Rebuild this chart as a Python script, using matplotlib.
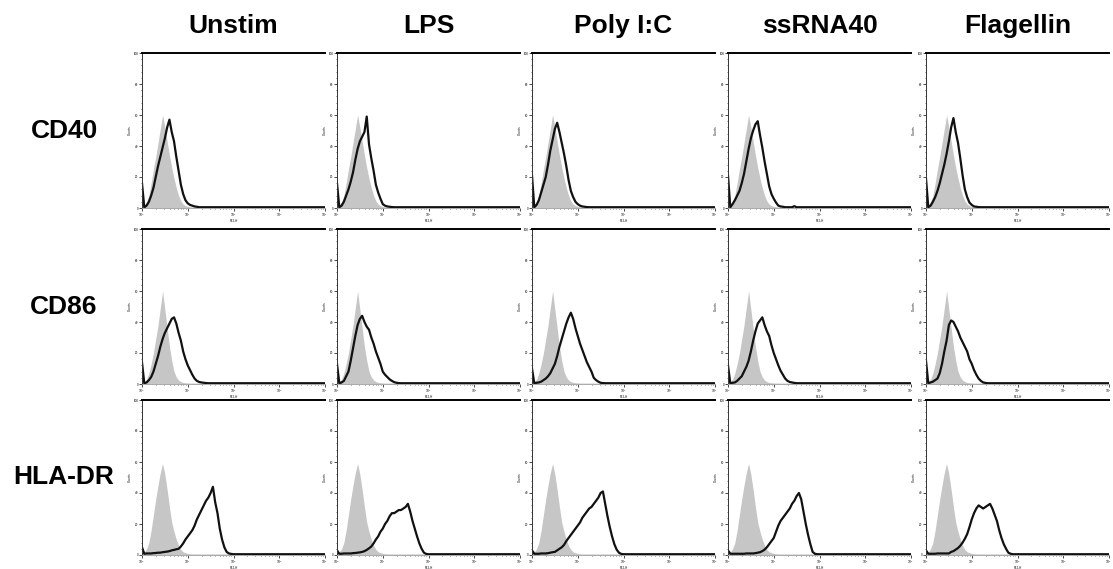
import numpy as np
import matplotlib.pyplot as plt
from matplotlib.ticker import FixedLocator, LogLocator, MultipleLocator, NullFormatter

plt.rcParams['font.family'] = ['Liberation Sans', 'DejaVu Sans']

stimuli = ['Unstim', 'LPS', 'Poly I:C', 'ssRNA40', 'Flagellin']
markers = ['CD40', 'CD86', 'HLA-DR']

# FL2-H channel positions in decades (10^0 .. 10^4)
log_fl2 = [0.00, 0.05, 0.10, 0.15, 0.20, 0.25, 0.30, 0.35, 0.40, 0.45,
           0.50, 0.55, 0.60, 0.65, 0.70, 0.75, 0.80, 0.85, 0.90, 0.95,
           1.00, 1.05, 1.10, 1.15, 1.20, 1.25, 1.30, 1.35, 1.40, 1.45,
           1.50, 1.55, 1.60, 1.65, 1.70, 1.75, 1.80, 1.85, 1.90, 1.95,
           2.00, 2.50, 3.00, 3.50, 4.00]

# isotype controls (grey fill), counts per channel
iso_cd40 = [1, 2, 4, 8, 16, 25, 33, 42, 51, 60,
            52, 43, 34, 26, 19, 13, 8, 4.5, 2.5, 1.5,
            1, 0.8, 0.6, 0.6, 0.6, 0.6, 0.6, 0.6, 0.6, 0.6,
            0.6, 0.6, 0.6, 0.6, 0.6, 0.6, 0.6, 0.6, 0.6, 0.6,
            0.6, 0.6, 0.6, 0.6, 0.6]
iso_cd86 = [1, 1.5, 3, 7, 13, 20, 29, 38, 49, 60,
            48, 36, 24, 15, 8, 4.5, 2.5, 1.5, 1, 0.8,
            0.7, 0.6, 0.6, 0.6, 0.6, 0.6, 0.6, 0.6, 0.6, 0.6,
            0.6, 0.6, 0.6, 0.6, 0.6, 0.6, 0.6, 0.6, 0.6, 0.6,
            0.6, 0.6, 0.6, 0.6, 0.6]
iso_hla = [1, 2, 4, 8, 16, 26, 36, 45, 53, 59,
           52, 42, 31, 21, 15, 10, 6, 3.5, 2, 1.5,
           1, 0.8, 0.7, 0.7, 0.7, 0.7, 0.7, 0.7, 0.7, 0.7,
           0.7, 0.7, 0.7, 0.7, 0.7, 0.7, 0.7, 0.7, 0.7, 0.7,
           0.7, 0.7, 0.7, 0.7, 0.7]

# stained samples (black line)
cd40_unstim = [16, 0.5, 1.5, 4, 8, 13, 20, 27, 33, 39,
               45, 52, 57, 49, 43, 33, 24, 15, 9, 5,
               3, 2, 1.5, 1, 0.8, 0.5, 0.5, 0.5, 0.5, 0.5,
               0.5, 0.5, 0.5, 0.5, 0.5, 0.5, 0.5, 0.5, 0.5, 0.5,
               0.5, 0.5, 0.5, 0.5, 0.5]
cd40_lps = [16, 0.5, 1.5, 4, 8, 12, 17, 23, 31, 38,
            43, 46, 49, 59, 41, 32, 24, 15, 10, 6,
            2.5, 1.5, 1, 0.8, 0.6, 0.5, 0.5, 0.5, 0.5, 0.5,
            0.5, 0.5, 0.5, 0.5, 0.5, 0.5, 0.5, 0.5, 0.5, 0.5,
            0.5, 0.5, 0.5, 0.5, 0.5]
cd40_polyic = [21, 0.5, 2, 5, 10, 15, 20, 28, 37, 44,
               51, 55, 49, 42, 35, 27, 18, 11, 7, 4,
               2.5, 1.5, 1, 0.8, 0.6, 0.5, 0.5, 0.5, 0.5, 0.5,
               0.5, 0.5, 0.5, 0.5, 0.5, 0.5, 0.5, 0.5, 0.5, 0.5,
               0.5, 0.5, 0.5, 0.5, 0.5]
cd40_ssrna = [21, 0.5, 2.5, 5, 8, 11, 16, 22, 30, 38,
              45, 50, 54, 56, 47, 39, 30, 22, 14, 9,
              6, 3.5, 1.5, 1, 0.8, 0.5, 0.5, 0.5, 0.5, 1.2,
              0.5, 0.5, 0.5, 0.5, 0.5, 0.5, 0.5, 0.5, 0.5, 0.5,
              0.5, 0.5, 0.5, 0.5, 0.5]
cd40_flag = [19, 0.5, 1.5, 4, 7, 11, 16, 22, 28, 35,
             43, 52, 58, 49, 42, 32, 21, 12, 7, 3.5,
             2, 1, 0.8, 0.6, 0.5, 0.5, 0.5, 0.5, 0.5, 0.5,
             0.5, 0.5, 0.5, 0.5, 0.5, 0.5, 0.5, 0.5, 0.5, 0.5,
             0.5, 0.5, 0.5, 0.5, 0.5]

cd86_unstim = [14, 0.5, 1, 2.5, 4.5, 8, 13, 18, 24, 29,
               33, 36, 39, 42, 43, 39, 33, 28, 21, 16,
               12, 9, 6, 3.5, 2, 1.3, 1, 0.8, 0.6, 0.5,
               0.5, 0.5, 0.5, 0.5, 0.5, 0.5, 0.5, 0.5, 0.5, 0.5,
               0.5, 0.5, 0.5, 0.5, 0.5]
cd86_lps = [13, 0.5, 1, 2, 5, 8, 15, 23, 31, 38,
            42, 44, 40, 37, 35, 30, 26, 21, 17, 13,
            8, 6, 4.5, 3, 2, 1.2, 0.8, 0.6, 0.5, 0.5,
            0.5, 0.5, 0.5, 0.5, 0.5, 0.5, 0.5, 0.5, 0.5, 0.5,
            0.5, 0.5, 0.5, 0.5, 0.5]
cd86_polyic = [10, 0.5, 0.8, 1, 1.5, 2.5, 3.5, 5, 7, 10,
               13, 18, 24, 29, 34, 39, 43, 46, 42, 36,
               31, 26, 22, 18, 14, 11, 8, 4, 2.5, 1.5,
               0.8, 0.6, 0.5, 0.5, 0.5, 0.5, 0.5, 0.5, 0.5, 0.5,
               0.5, 0.5, 0.5, 0.5, 0.5]
cd86_ssrna = [12, 0.5, 0.8, 1, 2, 3.5, 5, 8, 11, 15,
              21, 28, 34, 39, 41, 43, 38, 34, 31, 25,
              20, 16, 12, 8.5, 6, 3.5, 2, 1.3, 1, 0.7,
              0.5, 0.5, 0.5, 0.5, 0.5, 0.5, 0.5, 0.5, 0.5, 0.5,
              0.5, 0.5, 0.5, 0.5, 0.5]
cd86_flag = [15, 0.5, 1, 1.5, 2.5, 3.5, 7, 13, 21, 28,
             38, 41, 40, 37, 34, 30, 27, 24, 21, 16,
             13, 9, 6, 3.5, 2, 1, 0.7, 0.5, 0.5, 0.5,
             0.5, 0.5, 0.5, 0.5, 0.5, 0.5, 0.5, 0.5, 0.5, 0.5,
             0.5, 0.5, 0.5, 0.5, 0.5]

hla_unstim = [5, 0.8, 1, 1, 1, 1.2, 1.3, 1.5, 1.5, 1.8,
              2, 2.2, 2.5, 3, 3.3, 3.7, 4, 5.5, 7.5, 10,
              12, 14, 16, 19, 23, 26, 29, 32, 35, 37,
              40, 44, 34, 27, 17, 10, 5, 2, 1, 0.7,
              0.5, 0.5, 0.5, 0.5, 0.5]
hla_lps = [3, 0.8, 0.8, 1, 1, 1, 1, 1.2, 1.3, 1.5,
           1.7, 2, 2.5, 3.3, 4.3, 5.5, 7.5, 10, 12, 15,
           17, 20, 22, 25, 27, 27, 28, 29, 29, 30,
           31, 33, 28, 22, 17, 12, 7.5, 4, 1.5, 0.7,
           0.5, 0.5, 0.5, 0.5, 0.5]
hla_polyic = [3, 0.8, 0.8, 0.8, 1, 1, 1, 1.2, 1.5, 1.8,
              2, 3, 4, 5, 6.5, 9, 11, 13, 15, 17,
              19, 21, 24, 26, 28, 30, 31, 33, 35, 37,
              40, 41, 33, 25, 18, 12, 7, 3.5, 1.5, 0.7,
              0.5, 0.5, 0.5, 0.5, 0.5]
hla_ssrna = [3, 0.8, 0.8, 0.8, 0.8, 0.8, 0.8, 0.8, 1, 1,
             1, 1, 1.2, 1.5, 1.8, 2.5, 3.5, 5, 7, 9,
             11, 15, 19, 22, 24, 26, 28, 30, 33, 35,
             38, 40, 36, 28, 20, 13, 7, 2, 0.8, 0.5,
             0.5, 0.5, 0.5, 0.5, 0.5]
hla_flag = [3, 0.8, 0.8, 0.8, 0.8, 1, 1, 1, 1, 1,
            1, 2, 2.5, 3.5, 4.5, 6, 8, 10.5, 13.5, 18,
            23, 27, 30, 32, 31, 30, 31, 32, 33, 30,
            26, 22, 16, 11, 7, 4, 1.5, 0.8, 0.5, 0.5,
            0.5, 0.5, 0.5, 0.5, 0.5]

isotypes = [iso_cd40, iso_cd86, iso_hla]
stained = [
    [cd40_unstim, cd40_lps, cd40_polyic, cd40_ssrna, cd40_flag],
    [cd86_unstim, cd86_lps, cd86_polyic, cd86_ssrna, cd86_flag],
    [hla_unstim, hla_lps, hla_polyic, hla_ssrna, hla_flag],
]

W, H = 1113, 569
fig = plt.figure(figsize=(W / 100, H / 100), dpi=100)

col_left = [142, 337, 532, 728, 926]
row_top = [53, 229, 400]
pw, ph = 183, 155

fl2 = 10 ** np.array(log_fl2)

for r, marker in enumerate(markers):
    for c, stim in enumerate(stimuli):
        ax = fig.add_axes([col_left[c] / W, 1 - (row_top[r] + ph) / H, pw / W, ph / H])
        ax.fill_between(fl2, isotypes[r], color='#c6c6c6', lw=0)
        ax.plot(fl2, stained[r][c], color='#111111', lw=1.6, solid_joinstyle='round')

        ax.set_xscale('log')
        ax.set_xlim(1, 1e4)
        ax.set_ylim(0, 100)

        ax.spines['right'].set_visible(False)
        ax.spines['top'].set_linewidth(1.4)
        ax.spines['top'].set_color('black')
        ax.spines['left'].set_linewidth(0.7)
        ax.spines['left'].set_color('#333333')
        ax.spines['bottom'].set_linewidth(0.7)
        ax.spines['bottom'].set_color('#aaaaaa')

        ax.xaxis.set_major_locator(FixedLocator([1, 10, 100, 1000, 10000]))
        ax.xaxis.set_minor_locator(LogLocator(base=10, subs=np.arange(2, 10)))
        ax.xaxis.set_minor_formatter(NullFormatter())
        ax.set_xticklabels(['$10^0$', '$10^1$', '$10^2$', '$10^3$', '$10^4$'])
        ax.yaxis.set_major_locator(MultipleLocator(20))
        ax.yaxis.set_minor_locator(MultipleLocator(4))

        ax.tick_params(which='major', length=2, width=0.5, labelsize=2.2, pad=0.5)
        ax.tick_params(which='minor', length=1, width=0.4)
        ax.set_xlabel('FL2-H', fontsize=2.2, labelpad=0)
        ax.set_ylabel('Counts', fontsize=2.2, labelpad=1)

for c, stim in enumerate(stimuli):
    fig.text((col_left[c] + pw / 2) / W, 1 - 33 / H, stim, ha='center', va='baseline',
             fontsize=19, fontweight='bold')

for r, marker in enumerate(markers):
    fig.text(64 / W, 1 - (row_top[r] + ph / 2) / H, marker, ha='center', va='center',
             fontsize=19, fontweight='bold')

fig.savefig('out.png', dpi=100)
